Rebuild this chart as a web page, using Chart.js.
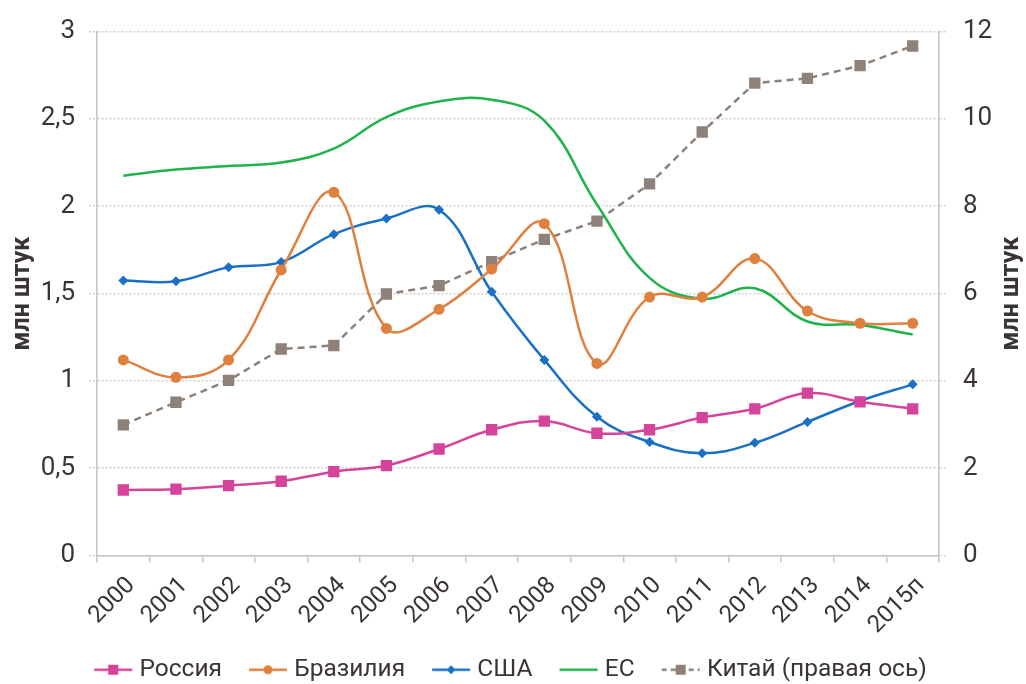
<!DOCTYPE html>
<html>
<head>
<meta charset="utf-8">
<script src="https://cdn.jsdelivr.net/npm/chart.js@4/dist/chart.umd.min.js"></script>
<style>
html,body{margin:0;padding:0;background:#fff;}
#wrap{width:1026px;height:684px;position:relative;}
canvas{display:block;}
</style>
</head>
<body>
<div id="wrap"><canvas id="c" width="1026" height="684"></canvas></div>
<script>
// ---- data ----
const categories = ['2000','2001','2002','2003','2004','2005','2006','2007','2008','2009','2010','2011','2012','2013','2014','2015п'];
const russia = [0.375,0.38,0.40,0.425,0.48,0.515,0.61,0.72,0.77,0.70,0.72,0.79,0.84,0.93,0.88,0.84];
const brazil = [1.12,1.02,1.12,1.635,2.08,1.30,1.41,1.64,1.90,1.10,1.48,1.48,1.70,1.40,1.33,1.33];
const usa    = [1.575,1.57,1.65,1.68,1.84,1.93,1.98,1.51,1.12,0.795,0.65,0.585,0.645,0.765,0.885,0.98];
const eu     = [2.175,2.21,2.23,2.25,2.33,2.51,2.60,2.61,2.49,2.01,1.59,1.47,1.53,1.34,1.32,1.265];
const china  = [2.99,3.51,4.01,4.73,4.81,5.99,6.18,6.73,7.24,7.66,8.51,9.70,10.82,10.93,11.22,11.67];
const seriesNames = ['Россия','Бразилия','США','ЕС','Китай (правая ось)'];
const leftTicks = [0,0.5,1,1.5,2,2.5,3];
const rightTicks = [0,2,4,6,8,10,12];
const axisTitle = 'млн штук';

// ---- styles ----
const FONT = 'Roboto, "DejaVu Sans", sans-serif';
const TEXT = '#3b3434';
const GRID = '#cdcdcd';
const AXIS = '#c4c4c4';
const colors = ['#d6439b','#e0803f','#1a70c5','#1fb44b','#8d8179'];
const markers = ['rect','circle','rectRot',false,'rect'];
const radii = [8,5.5,5,0,8];

function legendImage(i){
  const cv = document.createElement('canvas');
  cv.width = 40; cv.height = 18;
  const g = cv.getContext('2d');
  g.strokeStyle = colors[i]; g.fillStyle = colors[i];
  g.lineWidth = 2.5;
  if (i === 4) g.setLineDash([5,4]);
  g.beginPath(); g.moveTo(1,9); g.lineTo(39,9); g.stroke();
  g.setLineDash([]);
  const m = markers[i];
  if (m === 'rect') { g.fillRect(15,4,10,10); }
  else if (m === 'circle') { g.beginPath(); g.arc(20,9,4.5,0,Math.PI*2); g.fill(); }
  else if (m === 'rectRot') { g.beginPath(); g.moveTo(20,4.5); g.lineTo(24.5,9); g.lineTo(20,13.5); g.lineTo(15.5,9); g.closePath(); g.fill(); }
  return cv;
}
const legendImgs = seriesNames.map((_,i)=>legendImage(i));

const seriesData = [russia, brazil, usa, eu, china];
const datasets = seriesNames.map((name,i)=>({
  label: name,
  data: seriesData[i],
  yAxisID: i === 4 ? 'y2' : 'y',
  borderColor: colors[i],
  backgroundColor: colors[i],
  borderWidth: 2.5,
  borderDash: i === 4 ? [7,5] : [],
  tension: i === 4 ? 0 : 0.4,
  pointStyle: markers[i] || 'circle',
  pointRadius: radii[i],
  pointHoverRadius: radii[i],
  pointBorderWidth: 0,
  fill: false
}));

const titlePlugin = {
  id: 'sideTitles',
  afterDraw(chart){
    const ctx = chart.ctx;
    const a = chart.chartArea;
    const cy = (a.top + a.bottom)/2;
    ctx.save();
    ctx.fillStyle = TEXT;
    ctx.font = 'bold 25px ' + FONT;
    ctx.textAlign = 'center';
    ctx.textBaseline = 'middle';
    [23, 1012].forEach(x=>{
      ctx.save();
      ctx.translate(x, cy);
      ctx.rotate(-Math.PI/2);
      ctx.fillText(axisTitle, 0, 0);
      ctx.restore();
    });
    ctx.restore();
  }
};

const fmt = v => String(v).replace('.', ',');

new Chart(document.getElementById('c'), {
  type: 'line',
  data: { labels: categories, datasets },
  plugins: [titlePlugin],
  options: {
    responsive: false,
    animation: false,
    devicePixelRatio: 1,
    layout: { padding: { top: 28, left: 0, right: 0, bottom: -8 } },
    plugins: {
      tooltip: { enabled: false },
      legend: {
        position: 'bottom',
        labels: {
          usePointStyle: true,
          pointStyleWidth: 28,
          boxHeight: 18,
          padding: 32,
          color: TEXT,
          font: { family: FONT, size: 24.5 },
          generateLabels(chart){
            return chart.data.datasets.map((ds,i)=>({
              text: ds.label,
              pointStyle: legendImgs[i],
              fillStyle: colors[i],
              strokeStyle: colors[i],
              lineWidth: 0,
              hidden: false,
              datasetIndex: i,
              fontColor: TEXT
            }));
          }
        }
      }
    },
    scales: {
      x: {
        offset: true,
        grid: { offset: true, drawOnChartArea: false, drawTicks: true, tickLength: 7, color: AXIS, lineWidth: 1.5 },
        border: { display: true, color: AXIS, width: 1.5 },
        ticks: { color: TEXT, font: { family: FONT, size: 24 }, minRotation: 45, maxRotation: 45, autoSkip: false, padding: 9, labelOffset: 8 },
        afterFit(s){
          s.height = 70;
          s._computeLabelArea = function(){ return { top: this.top, left: 0, bottom: this.chart.height, right: this.chart.width }; };
        }
      },
      y: {
        position: 'left',
        min: 0, max: 3,
        afterBuildTicks(s){ s.ticks = leftTicks.map(v=>({value:v})); },
        grid: { color: GRID, lineWidth: 1.5, tickLength: 8, tickBorderDash: [2,2] },
        border: { display: true, color: AXIS, width: 1.5, dash: [2,2] },
        ticks: { color: TEXT, font: { family: FONT, size: 26 }, padding: 14, callback: v => fmt(v) },
        afterFit(s){ s.width = 97; }
      },
      y2: {
        position: 'right',
        min: 0, max: 12,
        afterBuildTicks(s){ s.ticks = rightTicks.map(v=>({value:v})); },
        grid: { drawOnChartArea: false, color: GRID, lineWidth: 1.5, tickLength: 8, tickBorderDash: [2,2] },
        border: { display: true, color: AXIS, width: 1.5 },
        ticks: { color: TEXT, font: { family: FONT, size: 26 }, padding: 16, callback: v => fmt(v) },
        afterFit(s){ s.width = 87; }
      }
    }
  }
});
</script>
</body>
</html>
